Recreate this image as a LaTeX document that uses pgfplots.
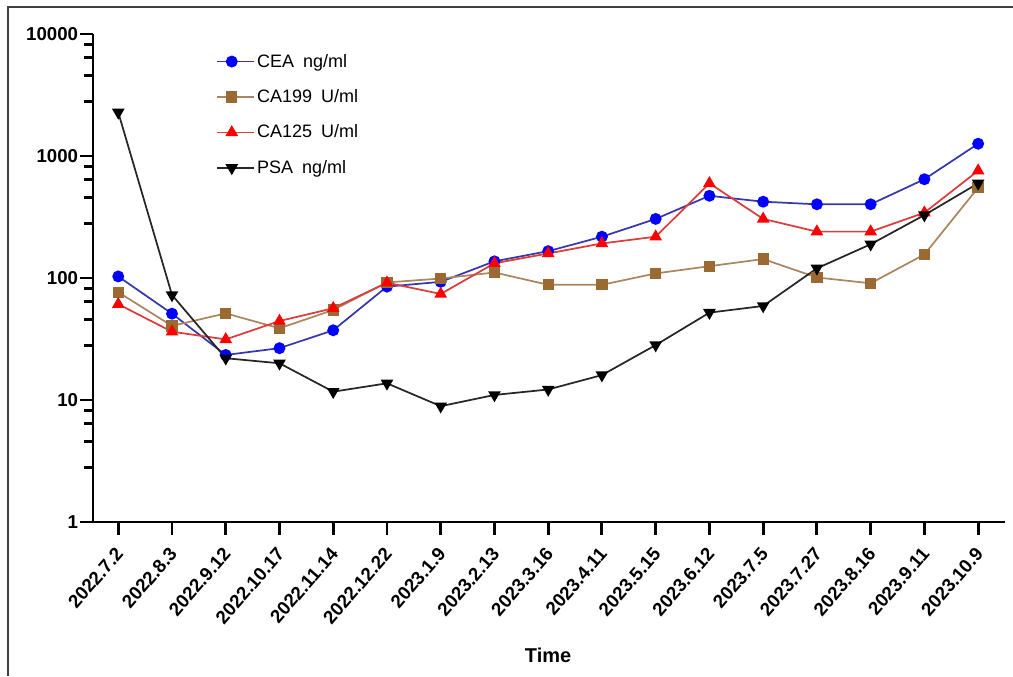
\documentclass[border=0pt]{standalone}
\usepackage{fontspec}
\setmainfont{Liberation Sans}
\usepackage{pgfplots}
\pgfplotsset{compat=1.18}
\definecolor{ceaLine}{RGB}{55,55,175}
\definecolor{ceaMark}{RGB}{0,0,255}
\definecolor{caLine}{RGB}{170,135,95}
\definecolor{caMark}{RGB}{155,105,50}
\definecolor{crLine}{RGB}{220,60,60}
\definecolor{crMark}{RGB}{255,0,0}
\begin{document}
\begin{tikzpicture}
\path[use as bounding box] (0pt,0pt) rectangle (759.75pt,507pt);
\draw[line width=1.1pt, color=black!75] (6pt,0pt) -- (6pt,501.75pt) -- (759.75pt,501.75pt);
\begin{axis}[
  at={(69.75pt,115.5pt)}, anchor=south west,
  scale only axis, width=684pt, height=366pt,
  ymode=log, ymin=1, ymax=10000,
  xmin=-0.47, xmax=16.5,
  axis x line*=bottom, axis y line*=left,
  axis line style={line width=2.2pt, -},
  tick align=outside,
  major tick length=9.5pt, minor tick length=6.5pt,
  every tick/.style={line width=2.2pt, black},
  ytick={1,10,100,1000,10000},
  yticklabels={1,10,100,1000,10000},
  minor ytick={2.8,4.6,6.4,8.2,28,46,64,82,280,460,640,820,2800,4600,6400,8200},
  xtick={0,...,16},
  xticklabels={2022.7.2,2022.8.3,2022.9.12,2022.10.17,2022.11.14,2022.12.22,2023.1.9,2023.2.13,2023.3.16,2023.4.11,2023.5.15,2023.6.12,2023.7.5,2023.7.27,2023.8.16,2023.9.11,2023.10.9},
  x tick label style={xshift=-3pt, yshift=-7pt, rotate=49, anchor=north east, font=\bfseries\fontsize{14}{16}\selectfont, inner sep=1pt},
  y tick label style={font=\bfseries\fontsize{14}{16}\selectfont, inner sep=1.5pt},
  xlabel={Time},
  xlabel style={font=\bfseries\fontsize{15}{17}\selectfont, at={(axis description cs:0.499,0)}, anchor=center, yshift=-99.75pt},
  legend style={at={(0.135,0.965)}, anchor=north west, draw=none, fill=none,
    font=\fontsize{13.5}{15}\selectfont, row sep=11.3pt, inner sep=0pt, cells={anchor=west}},
  legend image code/.code={\draw[mark repeat=2,mark phase=2,#1] plot coordinates {(0cm,0cm) (0.383cm,0cm) (0.767cm,0cm)}; \path (0.767cm,0cm) -- (0.767cm+5.5pt,0cm);},
  clip=false,
]
\addplot[color=ceaLine, line width=1.3pt, mark=*, mark size=3.8pt, mark options={solid, fill=ceaMark, draw=ceaMark}]
 coordinates {(0,103) (1,51) (2,23.4) (3,26.6) (4,37.3) (5,85) (6,93) (7,137) (8,166) (9,218) (10,305) (11,472) (12,422) (13,402) (14,402) (15,645) (16,1260)};
\addlegendentry{CEA\hspace{0.5em}ng/ml}
\addplot[color=caLine, line width=1.3pt, mark=square*, mark size=3.6pt, mark options={solid, fill=caMark, draw=caMark}]
 coordinates {(0,76.5) (1,40.5) (2,51.3) (3,38.7) (4,54.7) (5,92) (6,99) (7,111) (8,88) (9,88) (10,109) (11,125) (12,143) (13,101) (14,90.5) (15,156) (16,550)};
\addlegendentry{CA199\hspace{0.5em}U/ml}
\addplot[color=crLine, line width=1.3pt, mark=triangle*, mark size=4.2pt, mark options={solid, fill=crMark, draw=crMark}]
 coordinates {(0,61) (1,36.3) (2,31.4) (3,44.4) (4,56.5) (5,91.5) (6,74) (7,132) (8,159) (9,192) (10,218) (11,597) (12,305) (13,240) (14,240) (15,343) (16,758)};
\addlegendentry{CA125\hspace{0.5em}U/ml}
\addplot[color=black!85, line width=1.3pt, mark=triangle*, mark size=4.2pt, mark options={solid, fill=black, draw=black, rotate=180}]
 coordinates {(0,2280) (1,72.6) (2,22) (3,20) (4,11.7) (5,13.7) (6,8.9) (7,11) (8,12.2) (9,16) (10,28.2) (11,52) (12,59) (13,120) (14,189) (15,328) (16,597)};
\addlegendentry{PSA\hspace{0.5em}ng/ml}
\end{axis}
\end{tikzpicture}
\end{document}
